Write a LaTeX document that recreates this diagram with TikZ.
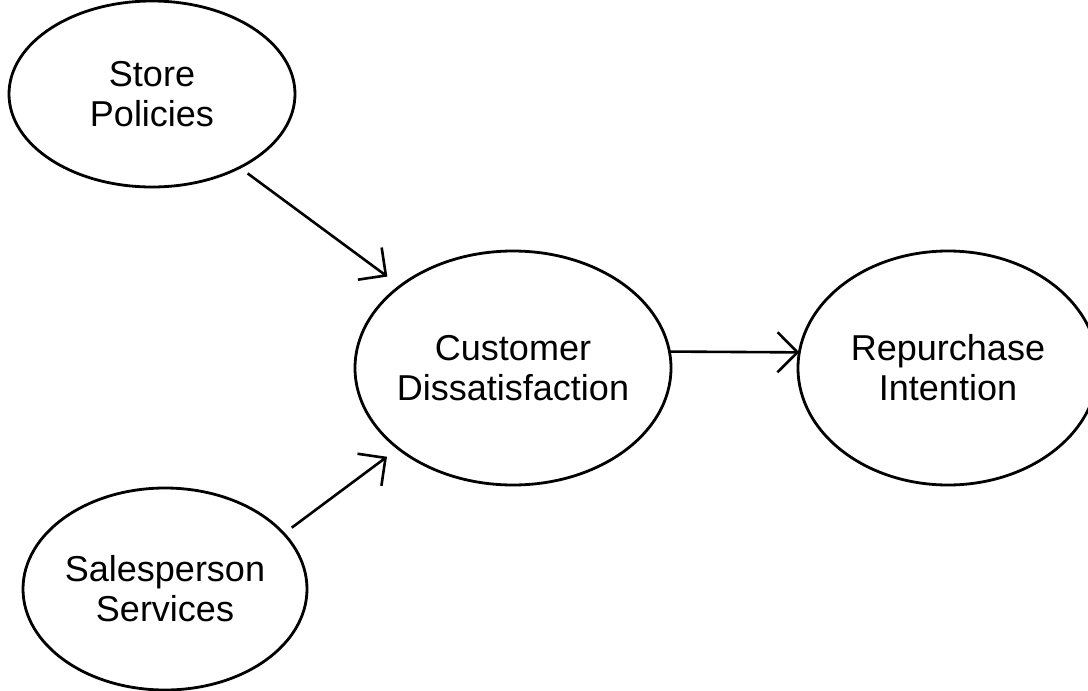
\documentclass[tikz,border=0pt]{standalone}
\usepackage{fontspec}
\setmainfont{Liberation Sans}
\usetikzlibrary{shapes.geometric,arrows.meta}

\tikzset{
  construct/.style n args={2}{ellipse, draw, line width=2.8pt, inner sep=0pt,
    outer sep=0pt, minimum width=#1, minimum height=#2},
  caption/.style={align=center, inner sep=0pt,
    font=\fontsize{36}{40}\selectfont},
  link/.style={line width=2.6pt,
    -{Straight Barb[length=20pt,width=40pt,line width=2.6pt]}}
}

\begin{document}
\begin{tikzpicture}[x=1pt,y=-1pt]
  \useasboundingbox (0,0) rectangle (1088,691);

  % constructs
  \node[construct={286pt}{186pt}] (store) at (152,94) {};
  \node[caption] (storet) at (store) {Store\\Policies};

  \node[construct={316pt}{234pt}] (cust) at (513,368) {};
  \node[caption] (custt) at (cust) {Customer\\Dissatisfaction};

  \node[construct={300pt}{234pt}] (rep) at (948,368) {};
  \node[caption] (rept) at (rep) {Repurchase\\Intention};

  \node[construct={284pt}{202pt}] (sales) at (165,589) {};
  \node[caption] (salest) at (sales) {Salesperson\\Services};

  % hypothesised paths
  \draw[link, shorten <=10pt, shorten >=16pt] (store.320) -- (cust.144);
  \draw[link, shorten <=10pt, shorten >=14pt] (sales.25) -- (cust.215);
  \draw[link] (cust.6) -- (rep.174);
\end{tikzpicture}
\end{document}
